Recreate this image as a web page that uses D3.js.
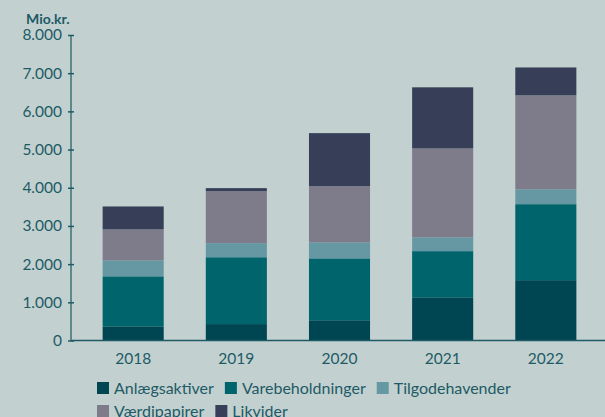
<!DOCTYPE html>
<html>
<head>
<meta charset="utf-8">
<script src="https://cdn.jsdelivr.net/npm/d3@7"></script>
<style>
  html, body { margin: 0; padding: 0; background: #c2d1d0; }
  svg { display: block; }
  text { font-family: "Lato", "Open Sans", sans-serif; fill: #1e5a65; }
</style>
</head>
<body>
<div id="chart"></div>
<script>
// data (Mio.kr.)
const years = ["2018", "2019", "2020", "2021", "2022"];
const seriesNames = ["Anlægsaktiver", "Varebeholdninger", "Tilgodehavender", "Værdipapirer", "Likvider"];
const anlaeg = [370, 430, 530, 1130, 1580];
const vare = [1310, 1750, 1620, 1210, 1990];
const tilgode = [420, 370, 420, 360, 390];
const vaerdi = [810, 1360, 1470, 2330, 2460];
const likvider = [600, 80, 1390, 1600, 730];
const yTicks = [0, 1000, 2000, 3000, 4000, 5000, 6000, 7000, 8000];
const colors = ["#004552", "#00646c", "#6598a3", "#7e7b8b", "#363f57"];

const width = 605;
const height = 417;
const margin = { top: 35, right: 0, bottom: 77, left: 71 };

const rows = years.map((y, i) => ({
  year: y,
  [seriesNames[0]]: anlaeg[i],
  [seriesNames[1]]: vare[i],
  [seriesNames[2]]: tilgode[i],
  [seriesNames[3]]: vaerdi[i],
  [seriesNames[4]]: likvider[i]
}));

const stacked = d3.stack().keys(seriesNames)(rows);

const svg = d3
  .select("#chart")
  .append("svg")
  .attr("width", width)
  .attr("height", height);

const x = d3
  .scaleBand()
  .domain(years)
  .range([82, 597])
  .paddingInner(0.408)
  .paddingOuter(0.2);

const y = d3
  .scaleLinear()
  .domain([0, 8000])
  .range([height - margin.bottom + 0.5, margin.top]);

const fmt = d3.formatLocale({ decimal: ",", thousands: ".", grouping: [3], currency: ["", " kr."] }).format(",d");

// bars
svg
  .append("g")
  .selectAll("g")
  .data(stacked)
  .join("g")
  .attr("fill", (d, i) => colors[i])
  .selectAll("rect")
  .data(d => d)
  .join("rect")
  .attr("x", d => x(d.data.year))
  .attr("width", x.bandwidth())
  .attr("y", d => y(d[1]))
  .attr("height", d => y(d[0]) - y(d[1]));

// baseline
svg
  .append("line")
  .attr("x1", margin.left)
  .attr("x2", width)
  .attr("y1", y(0))
  .attr("y2", y(0))
  .attr("stroke", "#1e5a65")
  .attr("stroke-width", 1.5);

// y axis
const yAxis = svg
  .append("g")
  .attr("transform", `translate(${margin.left},0)`)
  .call(d3.axisLeft(y).tickValues(yTicks).tickFormat(fmt).tickSize(3).tickPadding(6));
yAxis.select(".domain").attr("stroke", "#3a6f78").attr("stroke-width", 1.5).attr("d", `M0,${y(8000)}V${y(0)}`);
yAxis.selectAll(".tick line").attr("stroke", "#1e5a65").attr("x2", 3).attr("x1", -3).attr("stroke-width", 1.5);
yAxis.selectAll(".tick text").attr("font-size", 15.5).attr("fill", "#1e5a65").attr("font-family", "Lato, sans-serif");

// x labels
svg
  .append("g")
  .selectAll("text")
  .data(years)
  .join("text")
  .attr("x", d => x(d) + x.bandwidth() / 2)
  .attr("y", y(0) + 23)
  .attr("text-anchor", "middle")
  .attr("font-size", 15.5)
  .text(d => d);

// unit label
svg
  .append("text")
  .attr("x", 26)
  .attr("y", 24)
  .attr("font-size", 14)
  .attr("font-weight", "bold")
  .text("Mio.kr.");

// legend, flowing left to right
const legend = svg.append("g");
let lx = 97;
let ly = 388;
seriesNames.forEach((name, i) => {
  const item = legend.append("g");
  const label = item
    .append("text")
    .attr("x", 17)
    .attr("y", 5.5)
    .attr("font-size", 16)
    .text(name);
  const w = 17 + label.node().getComputedTextLength();
  if (lx + w > 530) {
    lx = 97;
    ly += 23;
  }
  item.attr("transform", `translate(${lx},${ly})`);
  item
    .append("rect")
    .attr("x", 0)
    .attr("y", -6)
    .attr("width", 12)
    .attr("height", 12)
    .attr("fill", colors[i]);
  lx += w + 11;
});
</script>
</body>
</html>
